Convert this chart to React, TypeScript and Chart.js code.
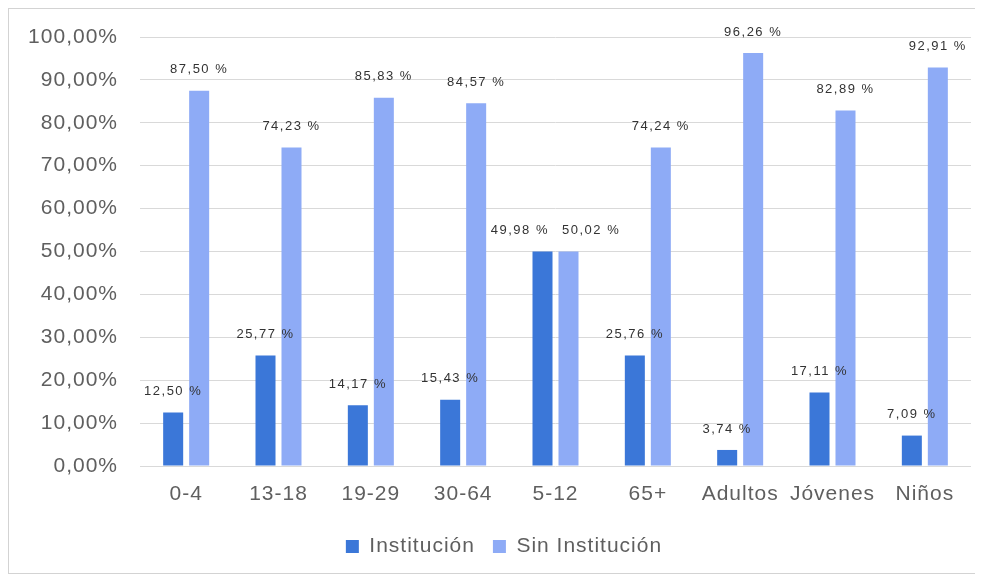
import React, { useEffect, useRef } from "react";
import { Chart, registerables } from "chart.js";

Chart.register(...registerables);

const categories = ["0-4", "13-18", "19-29", "30-64", "5-12", "65+", "Adultos", "Jóvenes", "Niños"];
const institucion = [12.5, 25.77, 14.17, 15.43, 49.98, 25.76, 3.74, 17.11, 7.09];
const sinInstitucion = [87.5, 74.23, 85.83, 84.57, 50.02, 74.24, 96.26, 82.89, 92.91];
const seriesNames = ["Institución", "Sin Institución"];
const seriesColors = ["#3b77d8", "#8eabf6"];

const FONT = "'Liberation Sans', Arial, sans-serif";

const fmt = (v: number) => v.toFixed(2).replace(".", ",");

const spacingPlugin = {
  id: "spacing",
  beforeUpdate(chart: any) {
    chart.ctx.letterSpacing = "1px";
  },
  afterLayout(chart: any) {
    // let the y tick labels use the full left margin
    if (chart.scales.y) chart.scales.y.left = 0;
  },
  beforeDraw(chart: any) {
    chart.ctx.letterSpacing = "1px";
  },
};

const labelPlugin = {
  id: "barLabels",
  afterDatasetsDraw(chart: any) {
    const ctx = chart.ctx;
    ctx.save();
    ctx.letterSpacing = "1.5px";
    ctx.font = `13px ${FONT}`;
    ctx.fillStyle = "#333333";
    ctx.textAlign = "center";
    ctx.textBaseline = "middle";
    const metas = chart.data.datasets.map((_: any, di: number) => chart.getDatasetMeta(di));
    categories.forEach((_, i) => {
      const items = chart.data.datasets.map((ds: any, di: number) => {
        const bar = metas[di].data[i];
        const text = fmt(ds.data[i] as number) + " %";
        return { text, x: bar.x, y: bar.y - 21, w: ctx.measureText(text).width };
      });
      // avoid overlapping labels within a category
      for (let k = 0; k < items.length - 1; k++) {
        const a = items[k];
        const b = items[k + 1];
        if (Math.abs(a.y - b.y) < 16) {
          const need = (a.w + b.w) / 2 + 13 - (b.x - a.x);
          if (need > 0) {
            a.x -= need / 2;
            b.x += need / 2;
          }
        }
      }
      items.forEach((it: any) => ctx.fillText(it.text, it.x, it.y));
    });
    ctx.restore();
  },
};

export default function App() {
  const ref = useRef<HTMLCanvasElement | null>(null);
  useEffect(() => {
    if (!ref.current) return;
    const chart = new Chart(ref.current, {
      type: "bar",
      data: {
        labels: categories,
        datasets: [
          {
            label: seriesNames[0],
            data: institucion,
            backgroundColor: seriesColors[0],
            categoryPercentage: 0.563,
            barPercentage: 0.77,
          },
          {
            label: seriesNames[1],
            data: sinInstitucion,
            backgroundColor: seriesColors[1],
            categoryPercentage: 0.563,
            barPercentage: 0.77,
          },
        ],
      },
      options: {
        animation: false,
        responsive: false,
        maintainAspectRatio: false,
        layout: { padding: { top: 28, right: 4, bottom: 6, left: 28 } },
        scales: {
          x: {
            grid: { display: false, drawTicks: false },
            border: { display: false },
            ticks: {
              color: "#5f5f5f",
              font: { family: FONT, size: 21 },
              padding: 16,
              maxRotation: 0,
              autoSkip: false,
            },
            afterFit(scale: any) {
              scale.height = 52;
            },
          },
          y: {
            min: 0,
            max: 100,
            grid: {
              color: "#d9d9d9",
              lineWidth: 1,
              drawTicks: true,
              tickLength: 22,
              tickColor: "rgba(0,0,0,0)",
            },
            border: { display: false },
            ticks: {
              stepSize: 10,
              color: "#5f5f5f",
              font: { family: FONT, size: 21 },
              padding: 0,
              callback: (v: any) => fmt(Number(v)) + "%",
            },
            afterFit(scale: any) {
              scale.width = 103;
            },
          },
        },
        plugins: {
          legend: {
            position: "bottom",
            labels: {
              boxWidth: 13,
              boxHeight: 13,
              color: "#5f5f5f",
              font: { family: FONT, size: 21 },
              padding: 18,
            },
          },
          tooltip: { enabled: false },
        },
      },
      plugins: [spacingPlugin, labelPlugin],
    });
    return () => chart.destroy();
  }, []);
  return (
    <div
      style={{
        width: 968,
        height: 566,
        boxSizing: "border-box",
        border: "1px solid #d3d3d3",
        background: "#ffffff",
      }}
    >
      <canvas ref={ref} width={966} height={564} style={{ display: "block" }} />
    </div>
  );
}
